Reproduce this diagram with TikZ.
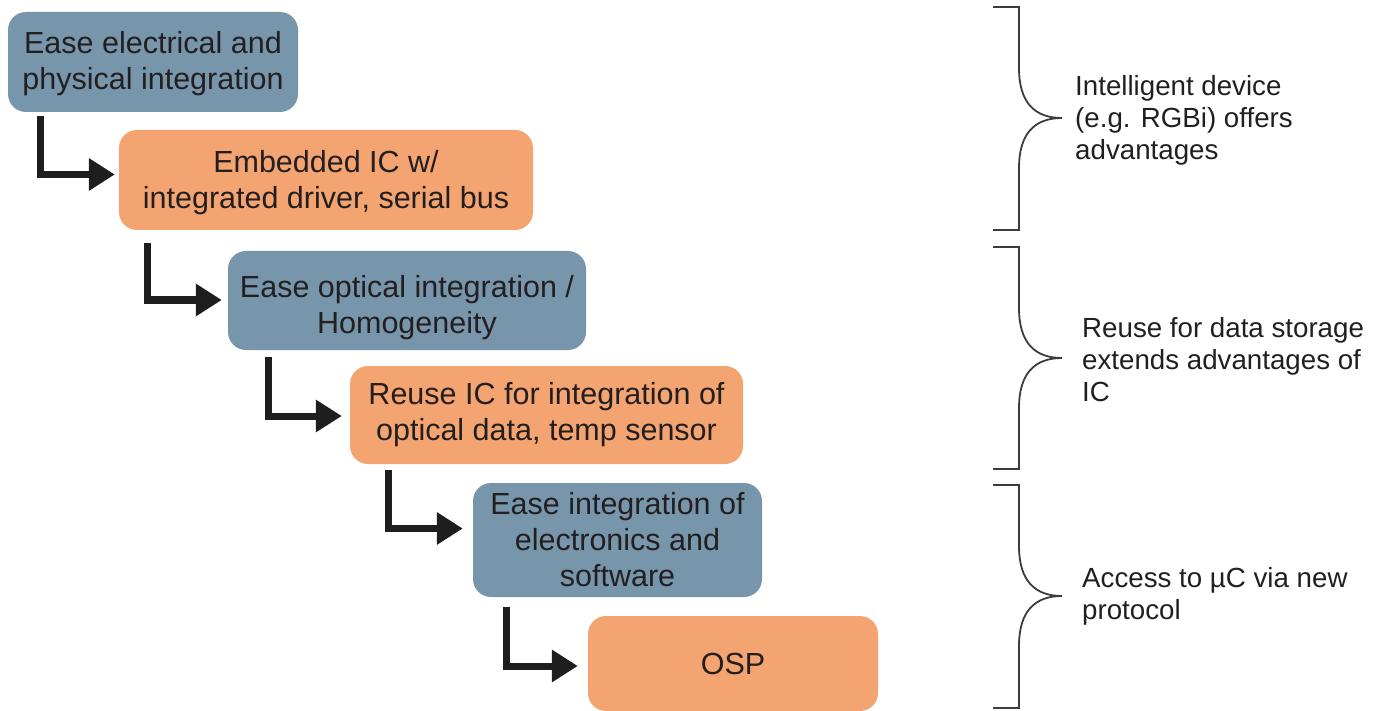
\documentclass[tikz,border=0pt]{standalone}
\usepackage{fontspec}
\setmainfont{Liberation Sans}
\usetikzlibrary{arrows.meta,calc}
\definecolor{boxblue}{RGB}{120,150,171}
\definecolor{boxorange}{RGB}{243,164,112}
\definecolor{txt}{RGB}{35,31,32}
\definecolor{bracegray}{RGB}{60,60,60}
\definecolor{arrowcol}{RGB}{30,30,30}
\begin{document}
\begin{tikzpicture}[x=1pt,y=-1pt,
  box/.style={rectangle, rounded corners=18pt, inner sep=0pt, align=center, text=txt,
    font=\fontsize{30.5}{36}\selectfont},
  boxtext/.style={inner sep=0pt, align=center, text=txt, font=\fontsize{30.5}{36}\selectfont},
  bluebox/.style={box, fill=boxblue},
  orangebox/.style={box, fill=boxorange},
  elbow/.style={line width=7pt, arrowcol, -{Triangle[length=26pt,width=31pt]}},
  bracepath/.style={line width=1.8pt, bracegray},
  note/.style={anchor=west, align=left, text=txt, inner sep=0pt,
    font=\fontsize{27.7}{32}\selectfont}]
\useasboundingbox (0,0) rectangle (1381,711);

% boxes
\node[bluebox, minimum width=290, minimum height=100] (b1) at (153,62) {};
\node[boxtext] (t1) at ($(b1.center)+(0,1.5)$) {Ease electrical and\\physical integration};
\node[orangebox, minimum width=414, minimum height=100] (b2) at (326,180) {};
\node[boxtext] (t2) at ($(b2.center)+(0,2.5)$) {Embedded IC w/\\integrated driver, serial bus};
\node[bluebox, minimum width=358, minimum height=99] (b3) at (407,300.5) {};
\node[boxtext] (t3) at ($(b3.center)+(0,7.5)$) {Ease optical integration /\\Homogeneity};
\node[orangebox, minimum width=393, minimum height=98] (b4) at (546.5,415) {Reuse IC for integration of\\optical data, temp sensor};
\node[bluebox, minimum width=289, minimum height=114] (b5) at (617.5,540) {Ease integration of\\electronics and\\software};
\node[orangebox, minimum width=290, minimum height=95] (b6) at (733,663.5) {OSP};

% elbow arrows
\draw[elbow] ($(b1.south west)+(33,4)$) |- ($(b2.west)+(-4,-5.5)$);
\draw[elbow] ($(b2.south west)+(29,13)$) |- ($(b3.west)+(-6,-0.5)$);
\draw[elbow] ($(b3.south west)+(41,7)$) |- ($(b4.west)+(-8,1)$);
\draw[elbow] ($(b4.south west)+(39,6)$) |- ($(b5.west)+(-10,-11.5)$);
\draw[elbow] ($(b5.south west)+(34,10)$) |- ($(b6.west)+(-10,2.5)$);

% braces
\foreach \yt/\ym/\yb [count=\i] in {7/118/230, 247/358/469, 485/596/708}{
  \coordinate (tip\i) at (1062,\ym);
  \draw[bracepath] (993,\yt) -- (1019,\yt) -- (1019,\ym-50)
    .. controls (1019,\ym-15) and (1035,\ym) .. (tip\i)
    .. controls (1035,\ym) and (1019,\ym+15) .. (1019,\ym+50)
    -- (1019,\yb) -- (993,\yb);
}

% notes
\node[note] (n1) at ($(tip1)+(13,2)$) {Intelligent device\\(e.g. RGBi) offers\\advantages};
\node[note] (n2) at ($(tip2)+(20,2)$) {Reuse for data storage\\extends advantages of\\IC};
\node[note] (n3) at ($(tip3)+(20,0)$) {Access to µC via new\\protocol};
\end{tikzpicture}
\end{document}
